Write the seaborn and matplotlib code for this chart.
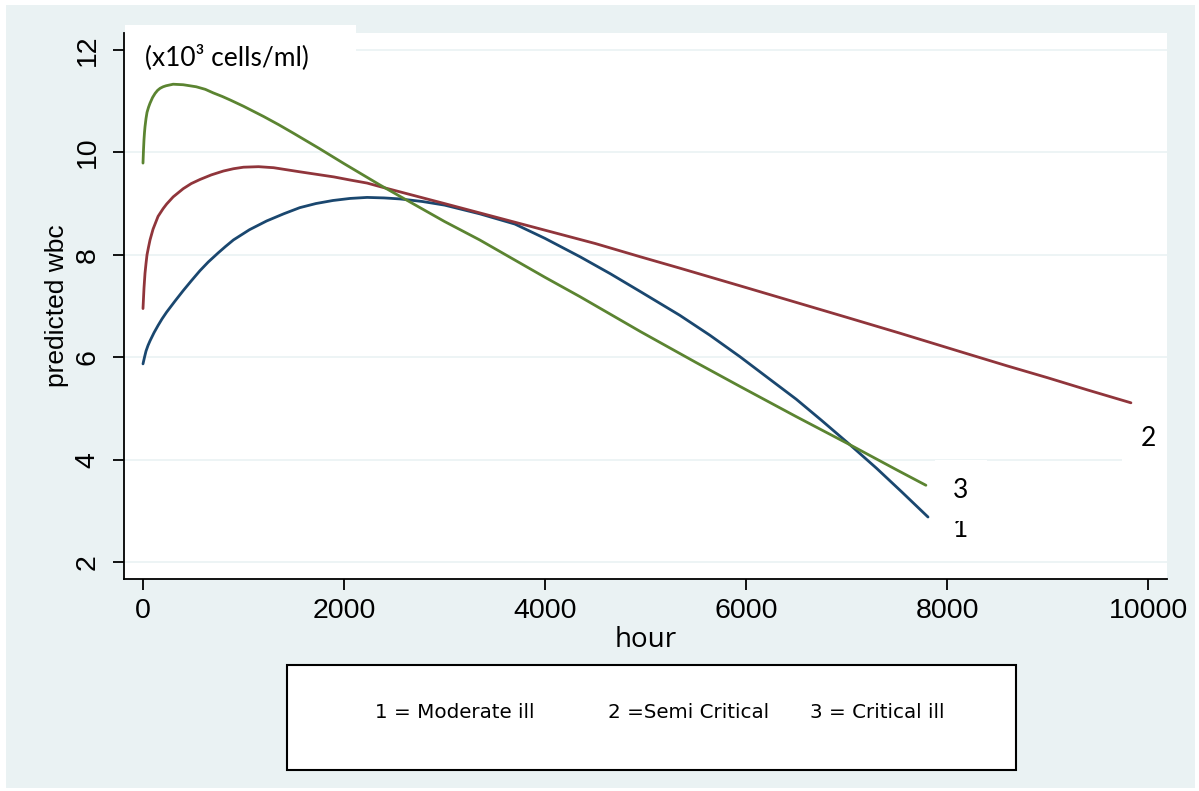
import numpy as np
import pandas as pd
import seaborn as sns
import matplotlib
matplotlib.use("Agg")
from matplotlib import pyplot as plt
from matplotlib.patches import Rectangle

# data (hour, predicted wbc)
hour_1 = [0, 15, 30, 50, 70, 110, 150, 190, 235, 320, 400, 480, 567, 650, 750, 820, 900, 1060,
          1230, 1400, 1560, 1720, 1890, 2060, 2230, 2400, 2560, 2780, 3000, 3350, 3700, 4000,
          4350, 4650, 4950, 5340, 5640, 5940, 6250, 6500, 6750, 7035, 7300, 7550, 7811]
wbc_1 = [5.87, 6.00, 6.12, 6.23, 6.32, 6.48, 6.62, 6.75, 6.88, 7.10, 7.30, 7.49, 7.69, 7.86, 8.04, 8.16, 8.29, 8.49,
         8.66, 8.80, 8.92, 9.00, 9.06, 9.10, 9.12, 9.11, 9.09, 9.04, 8.97, 8.80, 8.60, 8.32,
         7.96, 7.63, 7.28, 6.82, 6.43, 6.01, 5.55, 5.18, 4.77, 4.29, 3.83, 3.37, 2.88]

hour_2 = [0, 5, 10, 20, 30, 40, 55, 70, 100, 150, 200, 235, 300, 400, 480, 567, 680, 800, 900, 1000,
          1150, 1300, 1430, 1560, 1730, 1900, 2060, 2230, 2360, 3000, 3500, 4000, 4500, 4950, 5340,
          6000, 6500, 7000, 7530, 8130, 8600, 9000, 9400, 9830]
wbc_2 = [6.95, 7.15, 7.35, 7.64, 7.83, 8.00, 8.15, 8.29, 8.50, 8.75, 8.90, 8.99, 9.13, 9.29, 9.39, 9.47, 9.56, 9.635, 9.68, 9.71,
         9.72, 9.70, 9.66, 9.62, 9.57, 9.52, 9.46, 9.40, 9.33, 9.00, 8.74, 8.48, 8.22, 7.96, 7.74,
         7.36, 7.07, 6.78, 6.47, 6.11, 5.83, 5.60, 5.36, 5.11]

hour_3 = [0, 5, 10, 15, 20, 30, 40, 55, 70, 95, 120, 145, 170, 200, 230, 300, 400, 530, 620, 700, 790,
          870, 1000, 1100, 1200, 1350, 1500, 1750, 2000, 2360, 3000, 3350, 4000, 4350, 4950, 5500,
          5940, 6500, 7035, 7500, 7790]
wbc_3 = [9.79, 10.05, 10.25, 10.39, 10.50, 10.66, 10.78, 10.88, 10.96, 11.07, 11.15, 11.21, 11.25, 11.28, 11.30, 11.33, 11.32, 11.28, 11.23, 11.16, 11.09,
         11.02, 10.90, 10.80, 10.70, 10.54, 10.37, 10.08, 9.78, 9.36, 8.65, 8.29, 7.56, 7.18, 6.50, 5.90,
         5.43, 4.84, 4.29, 3.80, 3.50]

groups = ["1", "2", "3"]
legend_text = ["1 = Moderate ill", "2 =Semi Critical", "3 = Critical ill"]
colors = ["#1A476F", "#90353B", "#5B8431"]
x_ticks = [0, 2000, 4000, 6000, 8000, 10000]
y_ticks = [2, 4, 6, 8, 10, 12]

df = pd.concat([
    pd.DataFrame({"hour": hour_1, "wbc": wbc_1, "group": "1"}),
    pd.DataFrame({"hour": hour_2, "wbc": wbc_2, "group": "2"}),
    pd.DataFrame({"hour": hour_3, "wbc": wbc_3, "group": "3"}),
])

sns.set_style("white")
plt.rcParams['font.family'] = ['Liberation Sans', 'DejaVu Sans']
plt.rcParams['text.color'] = 'black'
plt.rcParams['axes.labelcolor'] = 'black'
plt.rcParams['xtick.color'] = 'black'
plt.rcParams['ytick.color'] = 'black'

W, H = 1199, 791
bg = "#EAF2F3"


def fx(px):
    return px / W


def fy(py):
    return (H - py) / H


fig = plt.figure(figsize=(W / 100, H / 100), dpi=100, facecolor="white")
fig.patches.append(Rectangle((fx(6), fy(788)), fx(1195) - fx(6), fy(5) - fy(788),
                             transform=fig.transFigure, facecolor=bg, edgecolor="none", zorder=-5))

ax = fig.add_axes([fx(124), fy(579), fx(1167) - fx(124), fy(33) - fy(579)])
ax.set_facecolor("white")

sns.lineplot(data=df, x="hour", y="wbc", hue="group", palette=colors, hue_order=groups,
             estimator=None, sort=True, linewidth=2.0, legend=False, ax=ax, zorder=3)

ax.set_xlim(-189, 10189)
ax.set_ylim(1.67, 12.33)
ax.set_xticks(x_ticks)
ax.set_yticks(y_ticks)
ax.yaxis.grid(True, color=bg, linewidth=1.2)
ax.xaxis.grid(False)
ax.set_axisbelow(True)

for s in ["top", "right"]:
    ax.spines[s].set_visible(False)
for s in ["left", "bottom"]:
    ax.spines[s].set_color("black")
    ax.spines[s].set_linewidth(1.3)

ax.tick_params(axis="both", direction="out", length=8, width=1.3, color="black",
               labelcolor="black", labelsize=20.5, bottom=True, left=True)
ax.tick_params(axis="x", pad=6)
ax.tick_params(axis="y", pad=9)
for lab in ax.get_yticklabels():
    lab.set_rotation(90)
    lab.set_va("center")

ax.set_ylabel("predicted wbc", fontsize=19, labelpad=4)
ax.set_xlabel("hour", fontsize=20, family=["Open Sans", "DejaVu Sans"], labelpad=1)

# end-of-line labels
label_pos = [(8139, 2.64), (10000, 4.42), (8139, 3.39)]
label_pad = [5, 13, 13]
for g, (lx, ly), p in zip(groups, label_pos, label_pad):
    ax.text(lx, ly, g, fontsize=19, family=["Lato", "DejaVu Sans"], ha="center", va="center",
            bbox=dict(facecolor="white", edgecolor="none", pad=p), clip_on=True, zorder=4)

# units box top left
fig.patches.append(Rectangle((fx(125), fy(52)), fx(356) - fx(125), fy(25) - fy(52),
                             transform=fig.transFigure, facecolor="white", edgecolor="none", zorder=3))
fig.text(fx(145), fy(57.5), "(x10³ cells/ml)", fontsize=19, family=["Lato", "DejaVu Sans"],
         ha="left", va="center", zorder=4)

# legend box
fig.patches.append(Rectangle((fx(287), fy(770)), fx(1016) - fx(287), fy(665) - fy(770),
                             transform=fig.transFigure, facecolor="white", edgecolor="black",
                             linewidth=1.5, zorder=3))
for t, lx in zip(legend_text, [375, 608, 810]):
    fig.text(fx(lx), fy(713), t, fontsize=14.3, family=["DejaVu Sans"], ha="left", va="center", zorder=4)

fig.savefig("out.png", dpi=100, facecolor="white")
